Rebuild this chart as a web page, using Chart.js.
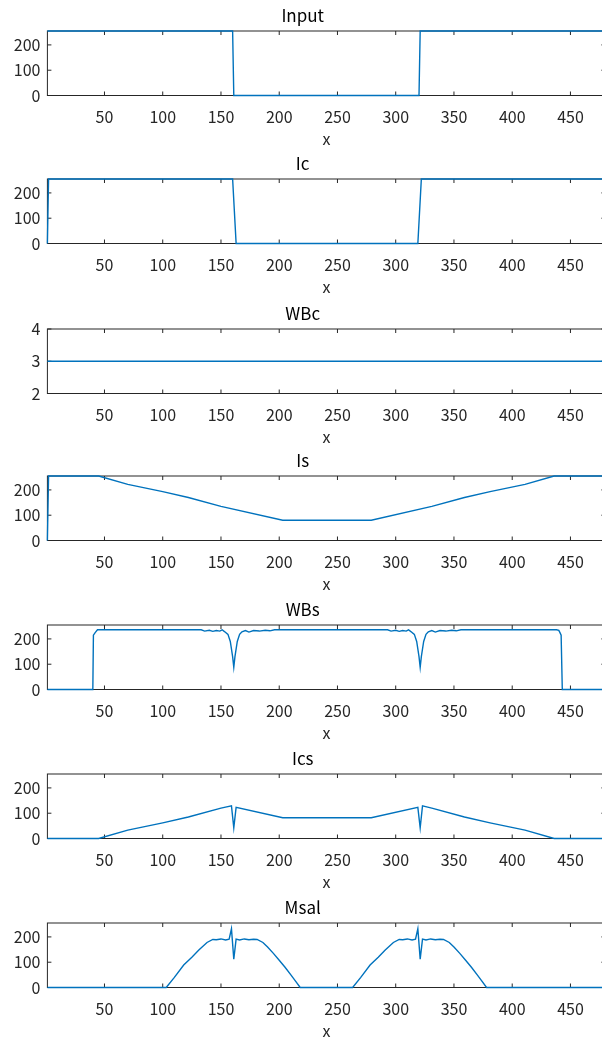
<!DOCTYPE html>
<html><head><meta charset="utf-8">
<script src="https://cdn.jsdelivr.net/npm/chart.js@4.4.0/dist/chart.umd.min.js"></script>
<style>
html,body{margin:0;padding:0;background:#fff;overflow:hidden;}
#wrap{position:relative;width:602px;height:1044px;overflow:hidden;background:#fff;}
.pane{position:absolute;left:0;width:620px;height:150px;}
</style></head><body><div id="wrap"></div>
<script>
// ---- data ----
const xTicks = [50,100,150,200,250,300,350,400,450];
const yTicks8bit = [0,100,200];
const yTicksWBc = [2,3,4];
const titles = ["Input","Ic","WBc","Is","WBs","Ics","Msal"];

const inputX = [1,160,161,320,321,480];
const inputY = [255,255,0,0,255,255];

const icX = [1,2,160,163,319,322,480];
const icY = [0,255,255,0,0,255,255];

const wbcX = [1,480];
const wbcY = [3,3];

const isX = [1,2,45,70,100,122,150,203,279,331,359,381,411,436,480];
const isY = [0,255,255,222,193,170,135,80,80,135,170,193,222,255,255];

const wbsX = [1,40,40.5,42,44,133,136,140,143,146,149,151,153,156,158,160,161,162,164,166,168,171,174,178,183,188,192,196,
              293,296,300,303,306,309,311,313,316,318,320,321,322,324,326,328,331,334,338,343,348,352,356,
              438,440,441,442,443,480];
const wbsY = [0,0,215,225,236,236,231,234,230,233,231,236,229,218,190,130,88,130,190,218,228,233,227,233,231,234,232,236,
              236,231,234,230,233,231,236,229,218,190,130,88,130,190,218,228,233,227,233,231,234,232,236,
              236,234,225,215,0,0];

const icsX = [1,45,70,100,122,150,159,161,163,203,279,319,321,323,331,359,381,411,436,480];
const icsY = [0,0,33,62,85,120,129,42,123,82,82,123,42,129,120,85,62,33,0,0];

const msalX = [1,103,110,118,125,131,138,143,146,150,154,157,159,161,163,166,170,174,178,181,186,190,195,200,205,210,214,218,
               263,270,278,285,291,298,303,306,310,314,317,319,321,323,326,330,334,338,341,346,350,355,360,365,370,374,378,480];
const msalY = [0,0,40,89,120,148,178,190,189,192,188,191,232,112,191,188,192,189,191,190,178,160,135,108,80,50,25,0,
               0,40,89,120,148,178,190,189,192,188,191,232,112,191,188,192,189,191,190,178,160,135,108,80,50,25,0,0];

const series = [[inputX,inputY],[icX,icY],[wbcX,wbcY],[isX,isY],[wbsX,wbsY],[icsX,icsY],[msalX,msalY]];
const yRanges = [[0,255],[0,255],[2,4],[0,255],[0,255],[0,255],[0,255]];
const yTickSets = [yTicks8bit,yTicks8bit,yTicksWBc,yTicks8bit,yTicks8bit,yTicks8bit,yTicks8bit];

// ---- layout ----
const plotTops = [30.7,179.3,328.7,476,625,774,923.3];
const FONT = "'Noto Sans CJK JP','Noto Sans',sans-serif";
const AXIS = '#262626';
const TITLE_BLOCK = 31, PLOT_H = 64.5, CANVAS_H = 150;

const boxPlugin = {
  id:'box',
  beforeDatasetsDraw(chart){
    const {ctx, chartArea:a, scales:{x,y}} = chart;
    ctx.save();
    ctx.strokeStyle = AXIS; ctx.lineWidth = 1;
    ctx.strokeRect(a.left, a.top, a.right-a.left, a.bottom-a.top);
    ctx.beginPath();
    const tl = 4;
    x.ticks.forEach(t=>{const p=x.getPixelForValue(t.value);
      ctx.moveTo(p,a.bottom); ctx.lineTo(p,a.bottom-tl);
      ctx.moveTo(p,a.top); ctx.lineTo(p,a.top+tl);});
    y.ticks.forEach(t=>{const p=y.getPixelForValue(t.value);
      ctx.moveTo(a.left,p); ctx.lineTo(a.left+tl,p);
      ctx.moveTo(a.right,p); ctx.lineTo(a.right-tl,p);});
    ctx.stroke();
    ctx.restore();
  }
};

const wrap = document.getElementById('wrap');
series.forEach((s,i)=>{
  const div = document.createElement('div');
  div.className='pane';
  div.style.top = (plotTops[i]-TITLE_BLOCK)+'px';
  const cv = document.createElement('canvas');
  cv.width = 620; cv.height = CANVAS_H;
  cv.style.width='620px'; cv.style.height=CANVAS_H+'px';
  div.appendChild(cv); wrap.appendChild(div);
  const pts = s[0].map((xv,k)=>({x:xv,y:s[1][k]}));
  const yt = yTickSets[i];
  new Chart(cv,{
    type:'line',
    data:{datasets:[{data:pts,borderColor:'#0072BD',borderWidth:1.4,pointRadius:0,tension:0,fill:false,clip:3}]},
    options:{
      responsive:false, animation:false, devicePixelRatio:1,
      layout:{padding:{left:0,right:620-605.4,top:0,bottom:0}},
      plugins:{legend:{display:false},tooltip:{enabled:false},
        title:{display:true,text:titles[i],color:'#000',font:{family:FONT,size:17,weight:'normal'},padding:{top:5,bottom:TITLE_BLOCK-5-20.4}}},
      scales:{
        x:{type:'linear',min:1,max:480,
          afterBuildTicks:sc=>{sc.ticks=xTicks.map(v=>({value:v}));},
          afterFit:sc=>{sc.height=CANVAS_H-TITLE_BLOCK-PLOT_H;},
          grid:{display:false,drawTicks:false},border:{display:false},
          ticks:{color:'#262626',font:{family:FONT,size:16},padding:12,maxRotation:0,autoSkip:false},
          title:{display:true,text:'x',color:'#262626',font:{family:FONT,size:16},padding:{top:2,bottom:1}}},
        y:{type:'linear',min:yRanges[i][0],max:yRanges[i][1],
          afterBuildTicks:sc=>{sc.ticks=yt.map(v=>({value:v}));},
          afterFit:sc=>{sc.width=47.4;},
          grid:{display:false,drawTicks:false},border:{display:false},
          ticks:{color:'#262626',font:{family:FONT,size:16},padding:7}}
      }
    },
    plugins:[boxPlugin]
  });
});
</script></body></html>
